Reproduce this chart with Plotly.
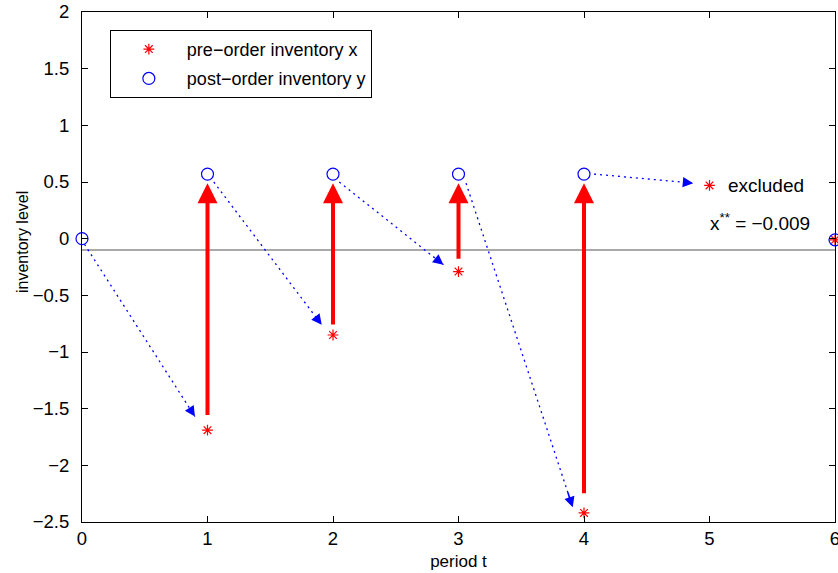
import plotly.graph_objects as go

# pre-order inventory x (red stars)
pre_t = [1, 2, 3, 4, 5, 6]
pre_x = [-1.69, -0.85, -0.29, -2.42, 0.47, -0.01]
# post-order inventory y (blue circles)
post_t = [0, 1, 2, 3, 4, 6]
post_y = [0.0, 0.57, 0.57, 0.57, 0.57, -0.01]

# demand-depletion paths (dotted): start (after order) -> end (before next order)
path_start_t = [0.02, 1.05, 2.05, 3.06, 4.08]
path_start_y = [-0.05, 0.50, 0.50, 0.49, 0.57]
path_end_t = [0.90, 1.91, 2.88, 3.91, 4.87]
path_end_y = [-1.57, -0.76, -0.23, -2.37, 0.49]

# order arrows (red): tail -> head
order_t = [1, 2, 3, 4]
order_tail = [-1.57, -0.77, -0.19, -2.26]
order_head = [0.49, 0.49, 0.49, 0.49]

threshold = -0.1
threshold_label = "x<sup>**</sup> = \u22120.009"

FONT = "Liberation Sans, Arial, Helvetica, sans-serif"

fig = go.Figure()

# threshold line
fig.add_trace(go.Scatter(x=[0, 6], y=[threshold, threshold], mode="lines",
                         line=dict(color="#555555", width=1.2), showlegend=False,
                         hoverinfo="skip"))

# dotted paths
for i in range(len(path_start_t)):
    fig.add_trace(go.Scatter(x=[path_start_t[i], path_end_t[i]],
                             y=[path_start_y[i], path_end_y[i]],
                             mode="lines", line=dict(color="blue", width=1.3, dash="2px,4px"),
                             showlegend=False, hoverinfo="skip"))

fig.add_trace(go.Scatter(x=pre_t, y=pre_x, mode="markers", name="pre\u2212order inventory x",
                         marker=dict(symbol="asterisk-open", size=9,
                                     line=dict(color="red", width=1.2), color="red"),
                         cliponaxis=False, legendgroup="a"))
fig.add_trace(go.Scatter(x=post_t, y=post_y, mode="markers", name="post\u2212order inventory y",
                         marker=dict(symbol="circle-open", size=12,
                                     line=dict(color="blue", width=1.2), color="blue"),
                         cliponaxis=False, legendgroup="b"))

annotations = []
# red order arrows
for t, a, b in zip(order_t, order_tail, order_head):
    annotations.append(dict(x=t, y=b, ax=t, ay=a, xref="x", yref="y", axref="x", ayref="y",
                            text="", showarrow=True, arrowhead=2, arrowsize=1.0,
                            arrowwidth=4, arrowcolor="red", standoff=0, startstandoff=0))
# blue arrow heads at the ends of the dotted paths
for s_t, s_y, e_t, e_y in zip(path_start_t, path_start_y, path_end_t, path_end_y):
    f = 0.05
    annotations.append(dict(x=e_t, y=e_y, ax=e_t - f * (e_t - s_t), ay=e_y - f * (e_y - s_y),
                            xref="x", yref="y", axref="x", ayref="y",
                            text="", showarrow=True, arrowhead=2, arrowsize=1.3,
                            arrowwidth=1.6, arrowcolor="blue", standoff=0))

annotations.append(dict(x=5.13, y=0.47, xref="x", yref="y", text="excluded", showarrow=False,
                        xanchor="left", yanchor="middle", font=dict(family=FONT, size=19, color="black")))
annotations.append(dict(x=4.985, y=0.15, xref="x", yref="y", text=threshold_label, showarrow=False,
                        xanchor="left", yanchor="middle", font=dict(family=FONT, size=19, color="black")))
# y-axis title
annotations.append(dict(x=-0.0797, y=0.549, xref="paper", yref="paper", text="inventory level",
                        textangle=-90, showarrow=False, xanchor="center", yanchor="middle",
                        font=dict(family=FONT, size=16, color="black")))

fig.update_layout(
    width=838, height=573,
    margin=dict(l=82, r=3, t=12, b=51, autoexpand=False),
    plot_bgcolor="white", paper_bgcolor="white",
    font=dict(family=FONT, size=18.5, color="black"),
    annotations=annotations,
    showlegend=True,
    legend=dict(x=0.037, y=0.965, xanchor="left", yanchor="top",
                bgcolor="white", bordercolor="black", borderwidth=1,
                font=dict(family=FONT, size=18), tracegroupgap=3, itemwidth=66),
    xaxis=dict(range=[0, 6], dtick=1, showline=True, linecolor="black", linewidth=1,
               mirror="ticks", ticks="inside", ticklen=6, tickcolor="black",
               showgrid=False, zeroline=False, ticklabeloverflow="allow", automargin=False,
               title=dict(text="period t", font=dict(size=17), standoff=6)),
    yaxis=dict(range=[-2.5, 2], dtick=0.5, showline=True, linecolor="black", linewidth=1,
               mirror="ticks", ticks="inside", ticklen=6, tickcolor="black",
               showgrid=False, zeroline=False, ticklabelstandoff=8, automargin=False),
)

fig.write_html("out.html")
